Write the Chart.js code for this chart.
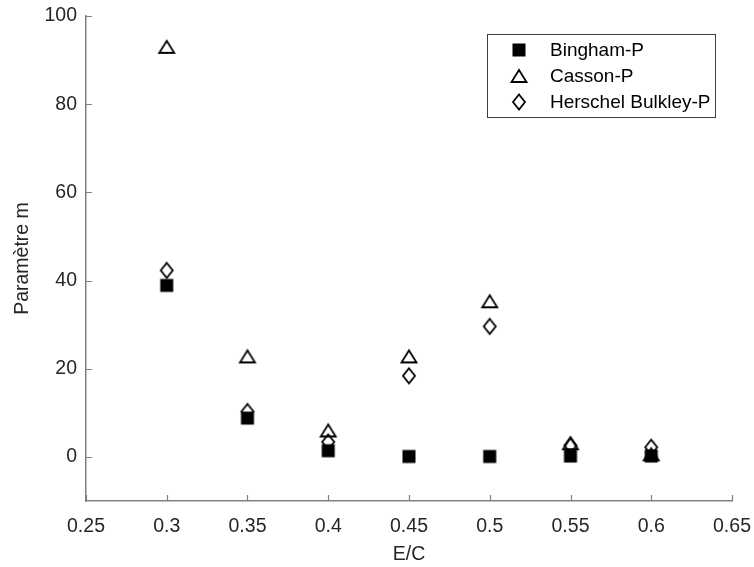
<!DOCTYPE html>
<html>
<head>
<meta charset="utf-8">
<script src="https://cdn.jsdelivr.net/npm/chart.js@4.4.1/dist/chart.umd.min.js"></script>
<style>
  html, body { margin: 0; padding: 0; background: #fff; }
  #wrap { width: 754px; height: 567px; }
</style>
</head>
<body>
<div id="wrap"><canvas id="myChart" width="754" height="567"></canvas></div>
<script>
const ecValues = [0.3, 0.35, 0.4, 0.45, 0.5, 0.55, 0.6];
const bingham = [38.9, 8.8, 1.4, 0.1, 0.1, 0.2, 0.2];
const casson = [93, 22.8, 6, 22.8, 35.3, 3.1, 0.6];
const herschel = [42.3, 10.3, 3.4, 18.4, 29.6, 2.6, 2.2];
const xTicks = [0.25, 0.3, 0.35, 0.4, 0.45, 0.5, 0.55, 0.6, 0.65];
const yTicks = [0, 20, 40, 60, 80, 100];

const fontFam = '"Liberation Sans", Arial, Helvetica, sans-serif';

// marqueurs style matlab
function marker(kind) {
  const c = document.createElement('canvas');
  c.width = 20; c.height = 20;
  const g = c.getContext('2d');
  g.strokeStyle = '#000';
  g.fillStyle = '#000';
  g.lineWidth = 1.8;
  g.lineJoin = 'miter';
  if (kind === 'square') {
    g.fillRect(3.5, 3.5, 13, 13);
  } else if (kind === 'triangle') {
    g.beginPath();
    g.moveTo(10, 4);
    g.lineTo(17.5, 16);
    g.lineTo(2.5, 16);
    g.closePath();
    g.stroke();
  } else {
    g.beginPath();
    g.moveTo(10, 2.5);
    g.lineTo(16, 10);
    g.lineTo(10, 17.5);
    g.lineTo(4, 10);
    g.closePath();
    g.stroke();
  }
  return c;
}

function toPoints(vals) {
  return ecValues.map((x, i) => ({ x: x, y: vals[i] }));
}

const markerLegend = {
  id: 'markerLegend',
  afterDraw(chart) {
    const ctx = chart.ctx;
    ctx.save();
    ctx.fillStyle = '#fff';
    ctx.fillRect(487, 34, 228, 83);
    ctx.strokeStyle = '#404040';
    ctx.lineWidth = 1;
    ctx.strokeRect(487.5, 34.5, 228, 83);
    ctx.font = '19px ' + fontFam;
    ctx.fillStyle = '#000';
    ctx.textBaseline = 'middle';
    chart.data.datasets.forEach((ds, i) => {
      const y = 50 + i * 26;
      const img = ds.pointStyle;
      ctx.drawImage(img, 519 - img.width / 2, y - img.height / 2);
      ctx.fillText(ds.label, 550, y + 1);
    });
    ctx.restore();
  }
};

const innerTicks = {
  id: 'innerTicks',
  afterDraw(chart) {
    const ctx = chart.ctx;
    const xs = chart.scales.x, ys = chart.scales.y;
    const area = chart.chartArea;
    ctx.save();
    ctx.strokeStyle = '#808080';
    ctx.lineWidth = 1.2;
    ctx.beginPath();
    xs.ticks.forEach(t => {
      const px = Math.round(xs.getPixelForValue(t.value)) + 0.5;
      ctx.moveTo(px, area.bottom);
      ctx.lineTo(px, area.bottom - 6);
    });
    ys.ticks.forEach(t => {
      const py = Math.round(ys.getPixelForValue(t.value)) + 0.5;
      ctx.moveTo(area.left, py);
      ctx.lineTo(area.left + 6, py);
    });
    ctx.stroke();
    ctx.restore();
  }
};

const ctx = document.getElementById('myChart').getContext('2d');

const myChart = new Chart(ctx, {
  type: 'scatter',
  data: {
    datasets: [
      { label: 'Bingham-P', data: toPoints(bingham), pointStyle: marker('square') },
      { label: 'Casson-P', data: toPoints(casson), pointStyle: marker('triangle') },
      { label: 'Herschel Bulkley-P', data: toPoints(herschel), pointStyle: marker('diamond') }
    ]
  },
  options: {
    responsive: false,
    animation: false,
    layout: { padding: { left: 0, right: 22, top: 16, bottom: 0 } },
    plugins: {
      legend: { display: false },
      tooltip: { enabled: false }
    },
    scales: {
      x: {
        type: 'linear',
        min: 0.25,
        max: 0.65,
        afterBuildTicks: s => { s.ticks = xTicks.map(v => ({ value: v })); },
        afterFit: s => { s.height = 66; s.paddingLeft = 0; s.paddingRight = 0; },
        grid: { display: false, drawTicks: false },
        border: { display: true, color: '#808080', width: 1.5 },
        ticks: {
          padding: 14,
          color: '#262626',
          font: { size: 19.5, family: fontFam },
          maxRotation: 0,
          callback: v => String(v)
        },
        title: {
          display: true,
          text: 'E/C',
          color: '#262626',
          font: { size: 19.5, family: fontFam },
          padding: { top: 0, bottom: 1 }
        }
      },
      y: {
        type: 'linear',
        min: -10,
        max: 100,
        afterBuildTicks: s => { s.ticks = yTicks.map(v => ({ value: v })); },
        afterFit: s => { s.width = 86; s.paddingTop = 0; s.paddingBottom = 0; },
        grid: { display: false, drawTicks: false },
        border: { display: true, color: '#808080', width: 1.5 },
        ticks: {
          padding: 9,
          color: '#262626',
          font: { size: 19.5, family: fontFam },
          callback: v => String(v)
        },
        title: {
          display: true,
          text: 'Paramètre m',
          color: '#262626',
          font: { size: 19.5, family: fontFam },
          padding: { top: 11, bottom: 0 }
        }
      }
    }
  },
  plugins: [innerTicks, markerLegend]
});
</script>
</body>
</html>
